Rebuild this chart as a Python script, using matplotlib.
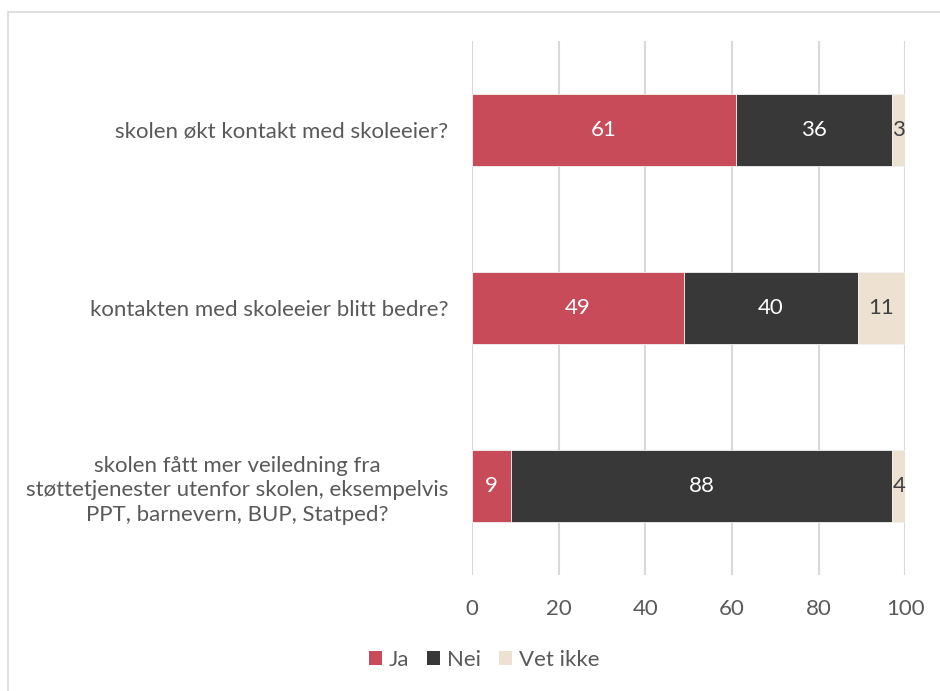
import matplotlib.pyplot as plt
from matplotlib.patches import Rectangle, Patch
import numpy as np

# data
categories = [
    "skolen økt kontakt med skoleeier?",
    "kontakten med skoleeier blitt bedre?",
    "skolen fått mer veiledning fra\nstøttetjenester utenfor skolen, eksempelvis\nPPT, barnevern, BUP, Statped?",
]
series_names = ["Ja", "Nei", "Vet ikke"]
ja = [61, 49, 9]
nei = [36, 40, 88]
vet_ikke = [3, 11, 4]
x_ticks = [0, 20, 40, 60, 80, 100]

colors = ["#C84B5A", "#383838", "#EDE1D2"]
label_colors = ["white", "white", "#404040"]
txt = "#595959"
fs = 16

plt.rcParams["font.family"] = ["Lato", "DejaVu Sans"]

fig = plt.figure(figsize=(9.4, 6.91), dpi=100)
ax = fig.add_axes([0.502, 0.168, 0.461, 0.7727])

y = np.arange(len(categories))
left = np.zeros(len(categories))
for vals, name, c, lc in zip([ja, nei, vet_ikke], series_names, colors, label_colors):
    vals = np.array(vals, dtype=float)
    ax.barh(y, vals, left=left, height=0.4, color=c, edgecolor="#F2F2F2",
            linewidth=0.6, label=name, zorder=3)
    for yi, l, v in zip(y, left, vals):
        xc = (l + min(l + v, 100)) / 2
        ax.text(xc, yi, f"{int(v)}", ha="center", va="center", color=lc,
                fontsize=fs, zorder=4)
    left += vals

ax.set_xlim(0, 100)
ax.set_ylim(2.5, -0.5)
ax.set_xticks(x_ticks)
ax.set_yticks(y)
ax.set_yticklabels(categories, multialignment="center", linespacing=1.3)
ax.tick_params(axis="both", length=0, colors=txt, labelsize=fs)
ax.tick_params(axis="x", pad=17)
ax.tick_params(axis="y", pad=17)
for s in ax.spines.values():
    s.set_visible(False)
ax.grid(axis="x", color="#D9D9D9", linewidth=1.5, zorder=0)
ax.set_axisbelow(True)

handles = [Patch(facecolor=c, edgecolor="none") for c in colors]
fig.legend(handles, series_names, loc="center", bbox_to_anchor=(0.515, 0.045),
           ncol=3, frameon=False, fontsize=fs, labelcolor=txt,
           handlelength=0.6, handleheight=0.6, handletextpad=0.3, columnspacing=0.8)

# chart border
fig.patches.append(Rectangle((8 / 940, -0.1), 1.2, 1.1 - 12 / 691,
                             transform=fig.transFigure, fill=False,
                             edgecolor="#D9D9D9", linewidth=1.2))

fig.savefig("out.png", dpi=100)
